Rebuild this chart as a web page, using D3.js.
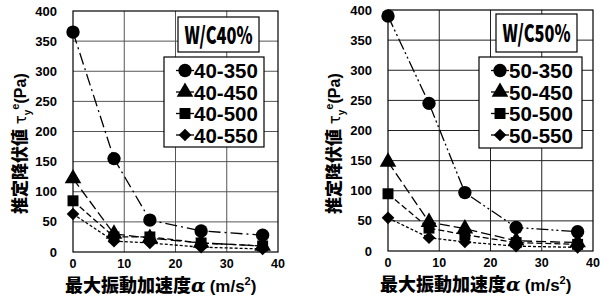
<!DOCTYPE html>
<html>
<head>
<meta charset="utf-8">
<script src="https://cdn.jsdelivr.net/npm/d3@7"></script>
<style>
  body { margin: 0; background: #fff; }
  svg { display: block; }
  text { font-family: "Liberation Sans", Arial, sans-serif; font-weight: bold; }
  .jp { font-family: "Noto Sans CJK JP", sans-serif; font-weight: 900; }
</style>
</head>
<body>
<div id="chart"></div>
<script>
// values
var accel = [0, 8, 15, 25, 37]
var xTicks = [0, 10, 20, 30, 40]
var yTicks = [0, 50, 100, 150, 200, 250, 300, 350, 400]

var names40 = ["40-350", "40-450", "40-500", "40-550"]
var s40_350 = [365, 155, 53, 35, 28]
var s40_450 = [122, 30, 23, 15, 10]
var s40_500 = [85, 25, 25, 15, 10]
var s40_550 = [63, 18, 15, 8, 5]

var names50 = ["50-350", "50-450", "50-500", "50-550"]
var s50_350 = [390, 245, 97, 39, 32]
var s50_450 = [148, 48, 37, 17, 14]
var s50_500 = [95, 38, 27, 14, 11]
var s50_550 = [55, 22, 15, 8, 6]

// diamond = square turned 45deg, wider than d3's diamond
var symbols = [d3.symbolCircle, d3.symbolTriangle, d3.symbolSquare, d3.symbolSquare]
var symSize = [140, 120, 120, 80]
var symRot = [0, 0, 0, 45]

var svg = d3.select("#chart").append("svg")
  .attr("width", 600)
  .attr("height", 300)

function marker(g, k, px, py) {
  return g.append("path")
    .attr("transform", "translate(" + px + "," + py + ") rotate(" + symRot[k] + ")")
    .attr("d", d3.symbol().type(symbols[k]).size(symSize[k]))
    .attr("fill", "#000")
}

function panel(opt) {
  var x = d3.scaleLinear().domain([0, 40]).range([opt.left, opt.right])
  var y = d3.scaleLinear().domain([0, 400]).range([opt.bottom, opt.top])
  var g = svg.append("g")

  // grid
  g.selectAll(".gx").data(xTicks.slice(1, -1)).enter().append("line")
    .attr("x1", d => x(d)).attr("x2", d => x(d))
    .attr("y1", opt.top).attr("y2", opt.bottom)
    .attr("stroke", opt.grid).attr("stroke-width", 1)
  g.selectAll(".gy").data(yTicks.slice(1, -1)).enter().append("line")
    .attr("y1", d => y(d)).attr("y2", d => y(d))
    .attr("x1", opt.left).attr("x2", opt.right)
    .attr("stroke", opt.grid).attr("stroke-width", 1)
  g.append("rect")
    .attr("x", opt.left).attr("y", opt.top)
    .attr("width", opt.right - opt.left).attr("height", opt.bottom - opt.top)
    .attr("fill", "none").attr("stroke", "#000").attr("stroke-width", 1.2)

  // tick labels
  g.selectAll(".ty").data(yTicks).enter().append("text")
    .attr("x", opt.left - 16).attr("y", d => y(d) + 4.5)
    .attr("text-anchor", "end").attr("font-size", 13)
    .text(d => d)
  g.selectAll(".tx").data(xTicks).enter().append("text")
    .attr("x", d => x(d)).attr("y", opt.bottom + 16)
    .attr("text-anchor", "middle").attr("font-size", 12.5)
    .text(d => d)

  // axis titles
  var xt = g.append("text").attr("x", opt.left - 8).attr("y", opt.bottom + 40)
    .attr("font-size", 18)
  xt.append("tspan").attr("class", "jp").text("最大振動加速度")
  xt.append("tspan").attr("font-family", "DejaVu Serif").attr("font-style", "italic").attr("font-size", 19).text("α")
  xt.append("tspan").attr("dx", 4).attr("font-size", 17).text("(m/s")
  xt.append("tspan").attr("font-size", 11).attr("dy", -7).text("2")
  xt.append("tspan").attr("font-size", 17).attr("dy", 7).text(")")

  var yt = g.append("text")
    .attr("transform", "translate(" + (opt.ytx) + "," + 214 + ") rotate(-90)")
    .attr("font-size", 17)
  yt.append("tspan").attr("class", "jp").text("推定降伏値")
  yt.append("tspan").attr("font-family", "DejaVu Sans").attr("font-weight", "normal").attr("font-size", 15).text(" τ")
  yt.append("tspan").attr("font-size", 10).attr("dy", 5).text("y")
  yt.append("tspan").attr("font-size", 11).attr("dy", -12).text("e")
  yt.append("tspan").attr("font-size", 16).attr("dy", 7).text("(Pa)")

  // series
  var line = d3.line().x((d, i) => x(accel[i])).y(d => y(d))
  opt.series.forEach(function (s, k) {
    g.append("path")
      .attr("d", line(s))
      .attr("fill", "none").attr("stroke", "#000").attr("stroke-width", 1.3)
      .attr("stroke-dasharray", opt.dash[k])
    s.forEach(function (d, i) { marker(g, k, x(accel[i]), y(d)) })
  })

  // title box, text squeezed sideways like a condensed gothic
  var tb = opt.tbox
  g.append("rect").attr("x", tb[0]).attr("y", tb[1]).attr("width", tb[2]).attr("height", tb[3])
    .attr("fill", "#fff").attr("stroke", "#000").attr("stroke-width", 1.2)
  g.append("text").attr("class", "jp")
    .attr("transform", "translate(" + (tb[0] + tb[2] / 2) + "," + (tb[1] + tb[3] / 2 + 9) + ") scale(0.86,1.25)")
    .attr("text-anchor", "middle").attr("font-size", 19)
    .text(opt.title)

  // legend
  var lb = opt.lbox
  g.append("rect").attr("x", lb[0]).attr("y", lb[1]).attr("width", lb[2]).attr("height", lb[3])
    .attr("fill", "#fff").attr("stroke", "#000").attr("stroke-width", 1.2)
  opt.names.forEach(function (n, k) {
    var ly = lb[1] + 13.5 + k * 21.5
    g.append("line").attr("x1", lb[0] + 12).attr("x2", lb[0] + 30)
      .attr("y1", ly).attr("y2", ly).attr("stroke", "#000").attr("stroke-width", 1.3)
    marker(g, k, lb[0] + 21, ly)
    g.append("text").attr("x", lb[0] + 30).attr("y", ly + 7.5)
      .attr("font-size", 20.5).text(n)
  })
}

panel({
  left: 73, right: 278, top: 11, bottom: 252, ytx: 26, grid: "#555",
  series: [s40_350, s40_450, s40_500, s40_550],
  names: names40,
  dash: ["12,4,2,4", "10,4", "6,3", "3,2"],
  title: "W/C40%",
  tbox: [178, 17, 81, 35],
  lbox: [164, 57, 100, 90]
})

panel({
  left: 388, right: 593, top: 10, bottom: 251, ytx: 340, grid: "#222",
  series: [s50_350, s50_450, s50_500, s50_550],
  names: names50,
  dash: ["12,3,2,3,2,3", "10,4", "6,3", "3,2"],
  title: "W/C50%",
  tbox: [496, 14, 81, 38],
  lbox: [479, 57, 103, 91]
})
</script>
</body>
</html>
